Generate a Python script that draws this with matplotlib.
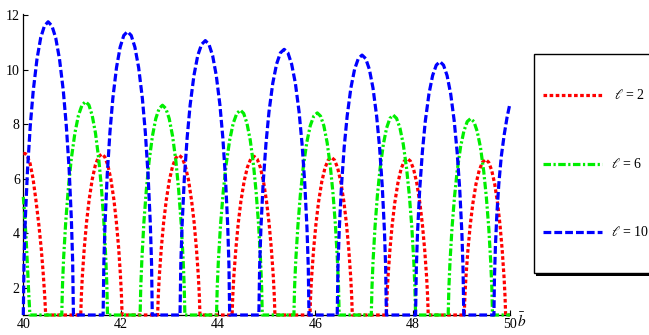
import matplotlib
matplotlib.use('Agg')
import matplotlib.pyplot as plt
from matplotlib.lines import Line2D
from matplotlib.patches import Rectangle

# ---------------- data ----------------
x_ticks = [40, 42, 44, 46, 48, 50]
y_ticks = [2, 4, 6, 8, 10, 12]
labels = [r'$\ell$ = 2', r'$\ell$ = 6', r'$\ell$ = 10']

red_x = [40.0, 40.04, 40.08, 40.14, 40.2, 40.26, 40.32, 40.37, 40.41, 40.44, 40.46,
         41.18, 41.193, 41.214, 41.253, 41.30, 41.352, 41.417, 41.481, 41.546, 41.61, 41.673, 41.736, 41.799, 41.862, 41.912, 41.959, 41.996, 42.017, 42.03,
         42.76, 42.773, 42.795, 42.835, 42.883, 42.936, 43.002, 43.068, 43.134, 43.20, 43.265, 43.329, 43.394, 43.458, 43.51, 43.557, 43.596, 43.617, 43.63,
         44.29, 44.304, 44.326, 44.367, 44.416, 44.47, 44.538, 44.605, 44.673, 44.74, 44.805, 44.869, 44.934, 44.998, 45.05, 45.097, 45.136, 45.157, 45.17,
         45.89, 45.903, 45.925, 45.965, 46.013, 46.066, 46.132, 46.198, 46.264, 46.33, 46.395, 46.459, 46.524, 46.588, 46.64, 46.687, 46.726, 46.747, 46.76,
         47.46, 47.473, 47.494, 47.533, 47.58, 47.632, 47.697, 47.761, 47.826, 47.89, 47.955, 48.019, 48.084, 48.148, 48.20, 48.247, 48.286, 48.307, 48.32,
         49.06, 49.073, 49.095, 49.135, 49.183, 49.236, 49.302, 49.368, 49.434, 49.50, 49.562, 49.623, 49.685, 49.746, 49.795, 49.84, 49.877, 49.898, 49.91,
         50.0]
red_y = [6.92, 6.92, 6.85, 6.55, 6.00, 5.20, 4.30, 3.40, 2.50, 1.70, 1.0,
         1, 1.71, 2.45, 3.46, 4.41, 5.22, 5.98, 6.50, 6.80, 6.90, 6.80, 6.50, 5.98, 5.22, 4.41, 3.46, 2.45, 1.71, 1,
         1, 1.70, 2.44, 3.44, 4.39, 5.19, 5.95, 6.46, 6.76, 6.86, 6.76, 6.46, 5.95, 5.19, 4.39, 3.44, 2.44, 1.70, 1,
         1, 1.70, 2.43, 3.42, 4.36, 5.16, 5.91, 6.42, 6.72, 6.82, 6.72, 6.42, 5.91, 5.16, 4.36, 3.42, 2.43, 1.70, 1,
         1, 1.69, 2.42, 3.41, 4.34, 5.14, 5.88, 6.39, 6.68, 6.78, 6.68, 6.39, 5.88, 5.14, 4.34, 3.41, 2.42, 1.69, 1,
         1, 1.69, 2.41, 3.39, 4.32, 5.11, 5.84, 6.35, 6.64, 6.74, 6.64, 6.35, 5.84, 5.11, 4.32, 3.39, 2.41, 1.69, 1,
         1, 1.68, 2.40, 3.37, 4.30, 5.08, 5.81, 6.31, 6.60, 6.70, 6.60, 6.31, 5.81, 5.08, 4.30, 3.37, 2.40, 1.68, 1,
         1.0]

green_x = [40.0, 40.03, 40.06, 40.09, 40.11, 40.125, 40.135,
           40.79, 40.805, 40.829, 40.873, 40.927, 40.986, 41.06, 41.133, 41.207, 41.28, 41.348, 41.415, 41.483, 41.55, 41.604, 41.654, 41.694, 41.717, 41.73,
           42.40, 42.414, 42.437, 42.478, 42.529, 42.584, 42.653, 42.722, 42.791, 42.86, 42.929, 42.998, 43.067, 43.136, 43.191, 43.242, 43.283, 43.306, 43.32,
           43.97, 43.985, 44.009, 44.053, 44.107, 44.166, 44.24, 44.313, 44.387, 44.46, 44.528, 44.595, 44.663, 44.73, 44.784, 44.834, 44.874, 44.897, 44.91,
           45.56, 45.574, 45.598, 45.642, 45.694, 45.752, 45.824, 45.896, 45.968, 46.04, 46.108, 46.175, 46.243, 46.31, 46.364, 46.414, 46.454, 46.477, 46.49,
           47.15, 47.164, 47.186, 47.227, 47.276, 47.33, 47.398, 47.465, 47.533, 47.60, 47.669, 47.738, 47.807, 47.876, 47.931, 47.982, 48.023, 48.046, 48.06,
           48.73, 48.744, 48.767, 48.808, 48.859, 48.914, 48.983, 49.052, 49.121, 49.19, 49.258, 49.325, 49.393, 49.46, 49.514, 49.564, 49.604, 49.627, 49.64,
           50.0]
green_y = [5.33, 4.62, 3.72, 2.62, 1.85, 1.35, 1.0,
           1, 2.08, 3.11, 4.45, 5.69, 6.72, 7.67, 8.32, 8.70, 8.82, 8.70, 8.32, 7.67, 6.72, 5.69, 4.45, 3.11, 2.08, 1,
           1, 2.06, 3.07, 4.40, 5.61, 6.63, 7.56, 8.20, 8.57, 8.69, 8.57, 8.20, 7.56, 6.63, 5.61, 4.40, 3.07, 2.06, 1,
           1, 2.04, 3.02, 4.32, 5.50, 6.50, 7.41, 8.03, 8.39, 8.51, 8.39, 8.03, 7.41, 6.50, 5.50, 4.32, 3.02, 2.04, 1,
           1, 2.02, 3.00, 4.27, 5.44, 6.42, 7.32, 7.94, 8.29, 8.41, 8.29, 7.94, 7.32, 6.42, 5.44, 4.27, 3.00, 2.02, 1,
           1, 2.01, 2.97, 4.24, 5.40, 6.36, 7.26, 7.86, 8.21, 8.33, 8.21, 7.86, 7.26, 6.36, 5.40, 4.24, 2.97, 2.01, 1,
           1, 1.99, 2.94, 4.18, 5.32, 6.27, 7.15, 7.74, 8.09, 8.20, 8.09, 7.74, 7.15, 6.27, 5.32, 4.18, 2.94, 1.99, 1,
           1.0]

blue_x = [40.00, 40.015, 40.041, 40.087, 40.143, 40.204, 40.281, 40.357, 40.434, 40.51, 40.588, 40.666, 40.744, 40.822, 40.884, 40.942, 40.988, 41.014, 41.03,
          41.64, 41.655, 41.68, 41.725, 41.78, 41.84, 41.915, 41.99, 42.065, 42.14, 42.217, 42.293, 42.37, 42.446, 42.507, 42.563, 42.609, 42.635, 42.65,
          43.22, 43.236, 43.262, 43.308, 43.366, 43.428, 43.506, 43.584, 43.662, 43.74, 43.815, 43.89, 43.965, 44.04, 44.10, 44.155, 44.20, 44.225, 44.24,
          44.84, 44.856, 44.882, 44.928, 44.986, 45.048, 45.126, 45.204, 45.282, 45.36, 45.437, 45.513, 45.59, 45.666, 45.727, 45.783, 45.829, 45.855, 45.87,
          46.45, 46.465, 46.491, 46.537, 46.593, 46.654, 46.73, 46.807, 46.883, 46.96, 47.035, 47.11, 47.185, 47.26, 47.32, 47.375, 47.42, 47.445, 47.46,
          48.06, 48.075, 48.10, 48.145, 48.20, 48.26, 48.335, 48.41, 48.485, 48.56, 48.634, 48.707, 48.781, 48.854, 48.913, 48.967, 49.011, 49.035, 49.05,
          49.67, 49.68, 49.70, 49.73, 49.77, 49.82, 49.88, 49.94, 50.0]
blue_y = [1, 2.97, 4.49, 6.34, 7.93, 9.22, 10.38, 11.16, 11.60, 11.75, 11.60, 11.16, 10.38, 9.22, 7.93, 6.34, 4.49, 2.97, 1,
          1, 2.90, 4.38, 6.16, 7.70, 8.95, 10.07, 10.82, 11.25, 11.39, 11.25, 10.82, 10.07, 8.95, 7.70, 6.16, 4.38, 2.90, 1,
          1, 2.84, 4.27, 5.99, 7.49, 8.70, 9.78, 10.51, 10.92, 11.06, 10.92, 10.51, 9.78, 8.70, 7.49, 5.99, 4.27, 2.84, 1,
          1, 2.78, 4.17, 5.83, 7.28, 8.45, 9.50, 10.20, 10.61, 10.74, 10.61, 10.20, 9.50, 8.45, 7.28, 5.83, 4.17, 2.78, 1,
          1, 2.75, 4.10, 5.73, 7.15, 8.29, 9.32, 10.01, 10.40, 10.53, 10.40, 10.01, 9.32, 8.29, 7.15, 5.73, 4.10, 2.75, 1,
          1, 2.70, 4.02, 5.61, 6.99, 8.11, 9.11, 9.78, 10.16, 10.29, 10.16, 9.78, 9.11, 8.11, 6.99, 5.61, 4.02, 2.70, 1,
          1, 2.3, 3.5, 4.7, 5.8, 6.8, 7.6, 8.25, 8.76]

# ---------------- styling ----------------
plt.rcParams['font.family'] = ['Liberation Serif', 'DejaVu Serif']
plt.rcParams['mathtext.fontset'] = 'stix'
plt.rcParams['lines.scale_dashes'] = False

W, H = 649, 335
fig = plt.figure(figsize=(W / 100, H / 100), dpi=100)
ax = fig.add_axes([23.3 / W, 20 / H, (510 - 23.3) / W, 301.4 / H])
ax.set_facecolor('none')

LW = 2.3
styles = [
    dict(color='#ff0000', dashes=(2.6, 1.8)),
    dict(color='#00ee00', dashes=(5.4, 1.8, 1.6, 1.8)),
    dict(color='#0000ff', dashes=(5.6, 2.2)),
]
series = [(red_x, red_y), (green_x, green_y), (blue_x, blue_y)]

for (xs, ys), st in zip(series, styles):
    ax.plot(xs, ys, lw=LW, color=st['color'], dashes=st['dashes'],
            dash_capstyle='butt', solid_capstyle='butt', clip_on=False, zorder=3)

ax.set_xlim(40, 50)
ax.set_ylim(1.0, 12.05)
ax.set_xticks(x_ticks)
ax.set_yticks(y_ticks)
ax.set_xticklabels([str(v) for v in x_ticks])
ax.set_yticklabels([str(v) for v in y_ticks])
for s in ['top', 'right']:
    ax.spines[s].set_visible(False)
for s in ['left', 'bottom']:
    ax.spines[s].set_linewidth(0.9)
    ax.spines[s].set_color('black')
    ax.spines[s].set_zorder(2)
ax.tick_params(direction='in', length=3.5, width=0.8, labelsize=10, pad=2.5, colors='black')

fig.text(522 / W, (H - 321) / H, r'$\bar{b}$', fontsize=11, ha='center', va='center')

# ---------------- legend (manual, with drop shadow) ----------------
bx0, by_top, by_bot = 534, 54, 273
fig.add_artist(Rectangle(((bx0 + 2) / W, (H - by_bot - 3) / H), 0.3, (by_bot - by_top) / H,
                         transform=fig.transFigure, facecolor='black', edgecolor='none', zorder=5))
fig.add_artist(Rectangle((bx0 / W, (H - by_bot) / H), 0.3, (by_bot - by_top) / H,
                         transform=fig.transFigure, facecolor='white', edgecolor='black', lw=1.0, zorder=6))
entry_y = [94.7, 164, 232]
text_x = [614, 611, 611]
for yy, tx, st, lab in zip(entry_y, text_x, styles, labels):
    fig.add_artist(Line2D([542.7 / W, 602 / W], [(H - yy) / H] * 2, transform=fig.transFigure,
                          lw=LW, color=st['color'], dashes=st['dashes'], dash_capstyle='butt', zorder=7))
    fig.text(tx / W, (H - yy) / H, lab, fontsize=10, ha='left', va='center', zorder=8)

fig.savefig('out.png', dpi=100)
